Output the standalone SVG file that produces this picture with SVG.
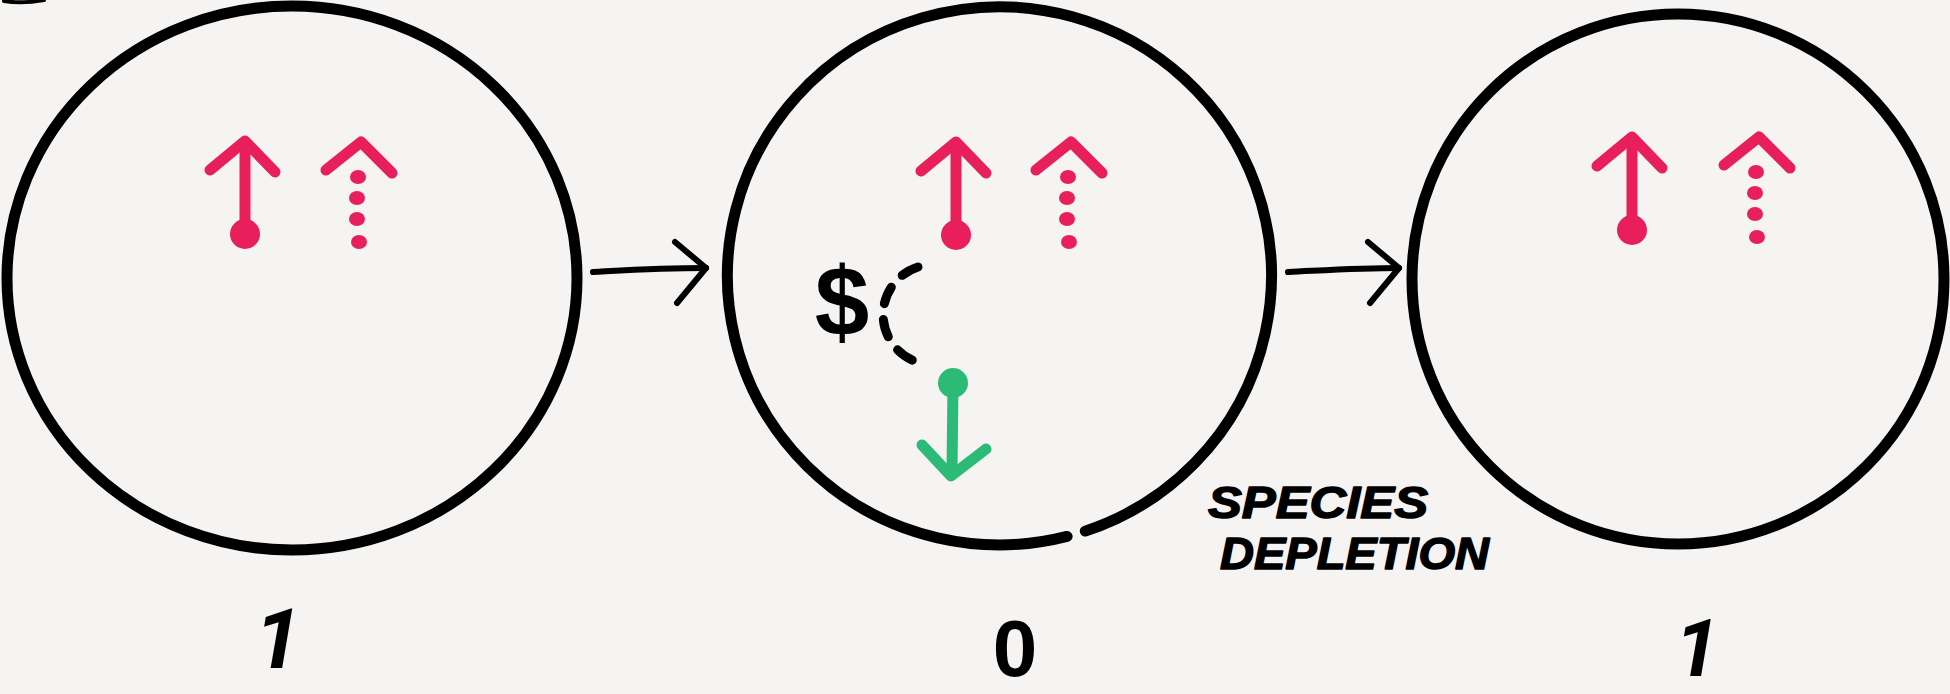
<svg xmlns="http://www.w3.org/2000/svg" xmlns:xlink="http://www.w3.org/1999/xlink" width="1950" height="694" viewBox="0 0 1950 694">
  <style>
    .ring { fill: none; stroke: #000; stroke-width: 11; stroke-linecap: round; stroke-linejoin: round; }
    .red { stroke: #e81f5a; fill: none; stroke-width: 11; stroke-linecap: round; stroke-linejoin: round; }
    .redfill { fill: #e81f5a; }
    .green { stroke: #2cbb76; fill: none; stroke-width: 11; stroke-linecap: round; stroke-linejoin: round; }
    .greenfill { fill: #2cbb76; }
    .conn { fill: none; stroke: #000; stroke-width: 6; stroke-linecap: round; }
    .num { font-family: "Liberation Sans", Arial, sans-serif; font-weight: bold; fill: #000; }
    .one { font-family: Roboto, "Liberation Sans", sans-serif; font-weight: bold; font-style: italic; fill: #000; }
    .hand { font-family: "Liberation Sans", Arial, sans-serif; font-weight: bold; font-style: italic; fill: #000; stroke: #000; stroke-width: 1.5; stroke-linejoin: round; }
    .dash { fill: none; stroke: #000; stroke-width: 9; stroke-linecap: round; stroke-dasharray: 18 16; }
  </style>
  <defs>
    <marker id="chev" markerUnits="userSpaceOnUse" markerWidth="60" markerHeight="90" viewBox="0 0 60 90" refX="45" refY="40" orient="auto">
      <path d="M14,14 L45,40 L16,75" fill="none" stroke="#000" stroke-width="6" stroke-linecap="round" stroke-linejoin="round"/>
    </marker>
    <g id="solidUp">
      <path class="red" d="M-35,29 L0,0 L30,31"/>
      <path class="red" d="M0,4 L0,80"/>
      <circle class="redfill" cx="0" cy="93" r="15"/>
    </g>
    <g id="dottedUp">
      <path class="red" d="M-35,28 L0,0 L31,31"/>
      <ellipse class="redfill" cx="-3" cy="35" rx="8" ry="7"/>
      <ellipse class="redfill" cx="-4" cy="56" rx="8" ry="7"/>
      <ellipse class="redfill" cx="-4" cy="77" rx="8" ry="7"/>
      <ellipse class="redfill" cx="-2" cy="100" rx="8" ry="7"/>
    </g>
  </defs>

  <rect x="0" y="0" width="1950" height="694" fill="#f5f4f2"/>
  <path d="M4,1 Q22,4 44,0" fill="none" stroke="#000" stroke-width="4" stroke-linecap="round"/>

  <g id="node-1">
    <ellipse class="ring" cx="292" cy="278" rx="285" ry="272"/>
    <use xlink:href="#solidUp" x="245" y="141"/>
    <use xlink:href="#dottedUp" x="361" y="142"/>
    <text class="one" font-size="84" x="278" y="668" text-anchor="middle">1</text>
  </g>

  <g id="node-2">
    <path class="ring" d="M1067.1,536.4 A272,269 0 1 1 1085.3,531.1"/>
    <use xlink:href="#solidUp" x="956" y="142"/>
    <use xlink:href="#dottedUp" x="1071" y="142"/>
    <text class="num" font-size="98" x="842" y="336" text-anchor="middle">$</text>
    <path class="dash" d="M918,267 A50,50 0 0 0 917,362"/>
    <g>
      <path class="green" d="M953,383 L952,470"/>
      <path class="green" d="M922,445 L951,476 L986,449"/>
      <circle class="greenfill" cx="953" cy="383" r="15"/>
    </g>
    <text class="num" font-size="80" x="1015" y="676" text-anchor="middle">0</text>
  </g>

  <g id="node-3">
    <ellipse class="ring" cx="1678" cy="279" rx="266" ry="265"/>
    <use xlink:href="#solidUp" x="1632" y="137"/>
    <use xlink:href="#dottedUp" x="1759" y="137"/>
    <text class="one" font-size="80" x="1697" y="676" text-anchor="middle">1</text>
  </g>

  <g id="connectors">
    <path class="conn" d="M593,272 C630,270 660,268 706,268" marker-end="url(#chev)"/>
    <path class="conn" d="M1288,272 C1330,270 1360,268 1399,268" marker-end="url(#chev)"/>
  </g>

  <g id="label-species-depletion">
    <text class="hand" font-size="45" x="1208" y="518" textLength="220" lengthAdjust="spacingAndGlyphs">SPECIES</text>
    <text class="hand" font-size="45" x="1220" y="569" textLength="269" lengthAdjust="spacingAndGlyphs">DEPLETION</text>
  </g>
</svg>
